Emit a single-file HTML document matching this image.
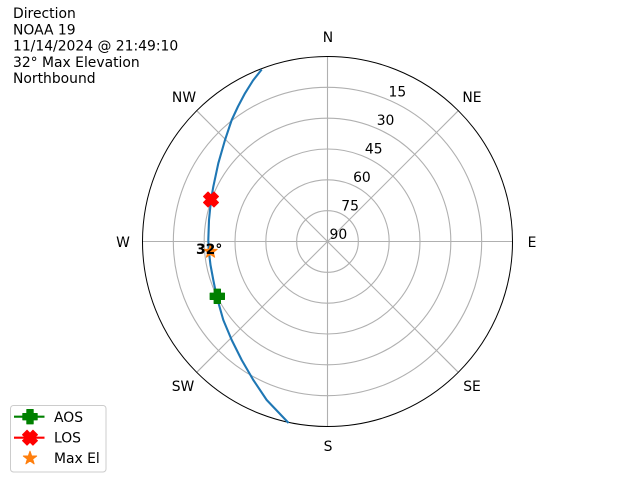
<!DOCTYPE html>
<html>
<head>
<meta charset="utf-8">
<style>
  html, body { margin: 0; padding: 0; background: #ffffff; }
  body { width: 640px; height: 480px; overflow: hidden; }
  svg { display: block; }
  text { font-family: "DejaVu Sans", "Liberation Sans", sans-serif; font-size: 13.9px; fill: #000; }
</style>
</head>
<body>
<svg width="640" height="480" viewBox="0 0 640 480" xmlns="http://www.w3.org/2000/svg">
  <rect x="0" y="0" width="640" height="480" fill="#ffffff"/>

  <!-- Title text -->
  <text x="13" y="18">Direction</text>
  <text x="13" y="34.3">NOAA 19</text>
  <text x="13" y="50.5">11/14/2024 @ 21:49:10</text>
  <text x="13" y="66.8">32° Max Elevation</text>
  <text x="13" y="83">Northbound</text>

  <!-- Grid rings -->
  <g fill="none" stroke="#b0b0b0" stroke-width="1.1">
    <circle cx="327.5" cy="241.5" r="30.83"/>
    <circle cx="327.5" cy="241.5" r="61.67"/>
    <circle cx="327.5" cy="241.5" r="92.5"/>
    <circle cx="327.5" cy="241.5" r="123.33"/>
    <circle cx="327.5" cy="241.5" r="154.17"/>
    <!-- spokes -->
    <line x1="327.5" y1="56.5" x2="327.5" y2="426.5"/>
    <line x1="142.5" y1="241.5" x2="512.5" y2="241.5"/>
    <line x1="196.7" y1="110.7" x2="458.3" y2="372.3"/>
    <line x1="458.3" y1="110.7" x2="196.7" y2="372.3"/>
  </g>
  <!-- Outer circle -->
  <circle cx="327.5" cy="241.5" r="185" fill="none" stroke="#000" stroke-width="1"/>

  <!-- Compass labels -->
  <g text-anchor="middle">
    <text x="328" y="42">N</text>
    <text x="472" y="102">NE</text>
    <text x="532" y="247">E</text>
    <text x="472" y="391">SE</text>
    <text x="328" y="451">S</text>
    <text x="183" y="391">SW</text>
    <text x="123" y="247">W</text>
    <text x="184" y="102">NW</text>
  </g>

  <!-- Ring labels -->
  <g>
    <text x="329.5" y="239">90</text>
    <text x="341.3" y="210.5">75</text>
    <text x="353.1" y="182">60</text>
    <text x="364.9" y="153.5">45</text>
    <text x="376.7" y="125.1">30</text>
    <text x="388.5" y="96.6">15</text>
  </g>

  <!-- Trajectory -->
  <polyline fill="none" stroke="#1f77b4" stroke-width="2.1" stroke-linejoin="round" stroke-linecap="butt"
    points="261.7,69.5 253,80.5 245,93.3 238,106.5 231.7,120 225,140 218.3,163.3 213.3,186.7 211,200 209,220 208.3,240 208.7,250 210.5,265 213.3,280 216.7,296.7 223.3,320 231.7,340 241.7,360 253.3,380 266.7,400 288.6,423"/>

  <!-- LOS marker (X) -->
  <g transform="translate(211,199.5) rotate(45)">
    <path d="M-3.2,-7.4 L3.2,-7.4 L3.2,-3.2 L7.4,-3.2 L7.4,3.2 L3.2,3.2 L3.2,7.4 L-3.2,7.4 L-3.2,3.2 L-7.4,3.2 L-7.4,-3.2 L-3.2,-3.2 Z"
      fill="#ff0000" stroke="#ff0000" stroke-width="1" stroke-linejoin="round"/>
  </g>

  <!-- AOS marker (plus) -->
  <g transform="translate(217.3,296.3)">
    <path d="M-3.2,-7.2 L3.2,-7.2 L3.2,-3.2 L7.2,-3.2 L7.2,3.2 L3.2,3.2 L3.2,7.2 L-3.2,7.2 L-3.2,3.2 L-7.2,3.2 L-7.2,-3.2 L-3.2,-3.2 Z"
      fill="#008000" stroke="#008000" stroke-width="1" stroke-linejoin="round"/>
  </g>

  <!-- Max El marker (star) -->
  <g transform="translate(210.5,251.5)">
    <path d="M0,-7 L1.65,-2.27 L6.66,-2.16 L2.67,0.87 L4.11,5.66 L0,2.8 L-4.11,5.66 L-2.67,0.87 L-6.66,-2.16 L-1.65,-2.27 Z"
      fill="#ff7f0e" stroke="#ff7f0e" stroke-width="1" stroke-linejoin="round"/>
  </g>

  <!-- 32° label -->
  <text x="196" y="254" font-weight="bold">32°</text>

  <!-- Legend -->
  <rect x="10.5" y="405.5" width="95.5" height="66.5" rx="3" ry="3" fill="#ffffff" fill-opacity="0.8" stroke="#cccccc" stroke-width="1"/>
  <line x1="14" y1="416.7" x2="44.5" y2="416.7" stroke="#008000" stroke-width="2.1"/>
  <g transform="translate(30,416.7)">
    <path d="M-3.2,-7.2 L3.2,-7.2 L3.2,-3.2 L7.2,-3.2 L7.2,3.2 L3.2,3.2 L3.2,7.2 L-3.2,7.2 L-3.2,3.2 L-7.2,3.2 L-7.2,-3.2 L-3.2,-3.2 Z"
      fill="#008000" stroke="#008000" stroke-width="1" stroke-linejoin="round"/>
  </g>
  <line x1="14" y1="437.7" x2="44.5" y2="437.7" stroke="#ff0000" stroke-width="2.1"/>
  <g transform="translate(30,437.7) rotate(45)">
    <path d="M-3.2,-7.4 L3.2,-7.4 L3.2,-3.2 L7.4,-3.2 L7.4,3.2 L3.2,3.2 L3.2,7.4 L-3.2,7.4 L-3.2,3.2 L-7.4,3.2 L-7.4,-3.2 L-3.2,-3.2 Z"
      fill="#ff0000" stroke="#ff0000" stroke-width="1" stroke-linejoin="round"/>
  </g>
  <g transform="translate(30,458.2)">
    <path d="M0,-7 L1.65,-2.27 L6.66,-2.16 L2.67,0.87 L4.11,5.66 L0,2.8 L-4.11,5.66 L-2.67,0.87 L-6.66,-2.16 L-1.65,-2.27 Z"
      fill="#ff7f0e" stroke="#ff7f0e" stroke-width="1" stroke-linejoin="round"/>
  </g>
  <text x="54" y="422">AOS</text>
  <text x="54" y="442.5">LOS</text>
  <text x="54" y="463">Max El</text>
</svg>
</body>
</html>
